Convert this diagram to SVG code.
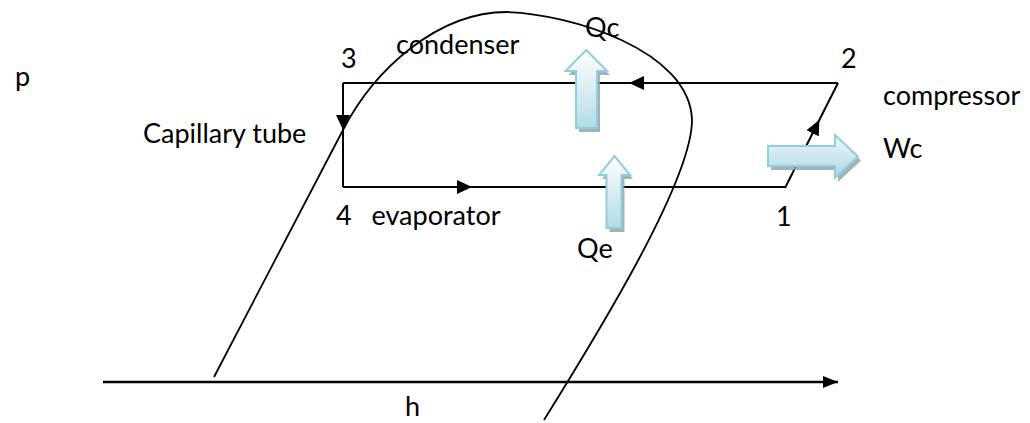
<svg xmlns="http://www.w3.org/2000/svg" width="1030" height="423" viewBox="0 0 1030 423">
<style>
text{font-family:Lato,"Liberation Sans",sans-serif;font-size:27px;fill:#000}
.ln{fill:none;stroke:#000;stroke-width:2}
.dome{fill:none;stroke:#000;stroke-width:1.8}
.axis{fill:none;stroke:#000;stroke-width:2.5}
.blue{stroke:#93cddd;stroke-width:2;stroke-linejoin:miter}
.shadow{fill:#8fa6ad;opacity:0.85}
</style>
<defs>
<marker id="ah" markerUnits="userSpaceOnUse" markerWidth="15" markerHeight="14" refX="15" refY="7" orient="auto" viewBox="0 0 15 14">
<path d="M0,0 L15,7 L0,14 z" fill="#000"/>
</marker>
<marker id="axh" markerUnits="userSpaceOnUse" markerWidth="15" markerHeight="12" refX="15" refY="6" orient="auto" viewBox="0 0 15 12">
<path d="M0,0 L15,6 L0,12 z" fill="#000"/>
</marker>
<linearGradient id="gv" x1="0" y1="0" x2="0" y2="1">
<stop offset="0" stop-color="#ffffff"/>
<stop offset="1" stop-color="#b2dbe6"/>
</linearGradient>
<linearGradient id="gh" x1="0" y1="0" x2="0" y2="1">
<stop offset="0" stop-color="#eef7fa"/>
<stop offset="1" stop-color="#acd7e3"/>
</linearGradient>
</defs>

<g id="connectors">
<path id="axis-h" class="axis" d="M103,382 L838,382" marker-end="url(#axh)"/>
<path id="saturation-dome" class="dome" d="M214,377 L343,130 C374,70 437,12 507,12 C570,14 690,50 692,120 C692,180 600,330 544,420"/>
<path id="c-2-3a" class="ln" d="M838,83 L629,83" marker-end="url(#ah)"/>
<path id="c-2-3b" class="ln" d="M629,83 L343,83"/>
<path id="c-3-4a" class="ln" d="M343,83 L343,130" marker-end="url(#ah)"/>
<path id="c-3-4b" class="ln" d="M343,130 L343,187"/>
<path id="c-4-1a" class="ln" d="M343,187 L472,187" marker-end="url(#ah)"/>
<path id="c-4-1b" class="ln" d="M472,187 L785,187"/>
<path id="c-1-2a" class="ln" d="M785,188 L819.3,120" marker-end="url(#ah)"/>
<path id="c-1-2b" class="ln" d="M819.3,120 L838,83"/>
</g>

<g id="node-Qc">
<polygon class="shadow" points="589,54 610,75 600,75 600,132 579,132 579,75 568.5,75"/>
<polygon fill="url(#gv)" class="blue" points="586.3,50 607,71 597,71 597,128 576,128 576,71 565.5,71"/>
<text x="585" y="36.5">Qc</text>
</g>

<g id="node-Qe">
<polygon class="shadow" points="617.5,160 633,179 624.5,179 624.5,232 609.5,232 609.5,179 602,179"/>
<polygon fill="url(#gv)" class="blue" points="614.5,156 630,175 621.5,175 621.5,228 606.5,228 606.5,175 599,175"/>
<text x="577" y="258">Qe</text>
</g>

<g id="node-Wc">
<polygon class="shadow" points="771,150 838,150 838,139 861,160.5 838,182 838,170 771,170"/>
<polygon fill="url(#gh)" class="blue" points="768,146 835,146 835,135 858,156.5 835,178 835,166 768,166"/>
<text x="883" y="158">Wc</text>
</g>

<g id="node-p"><text x="15" y="86">p</text></g>
<g id="node-h"><text x="405" y="416">h</text></g>
<g id="node-1"><text x="776" y="225.5">1</text></g>
<g id="node-2"><text x="841" y="68">2</text></g>
<g id="node-3"><text x="341" y="68">3</text></g>
<g id="node-4"><text x="336" y="225">4</text></g>
<g id="node-condenser"><text x="396" y="53.5">condenser</text></g>
<g id="node-evaporator"><text x="371.5" y="225">evaporator</text></g>
<g id="node-compressor"><text x="883" y="105">compressor</text></g>
<g id="node-capillary"><text x="143" y="143">Capillary tube</text></g>
</svg>
